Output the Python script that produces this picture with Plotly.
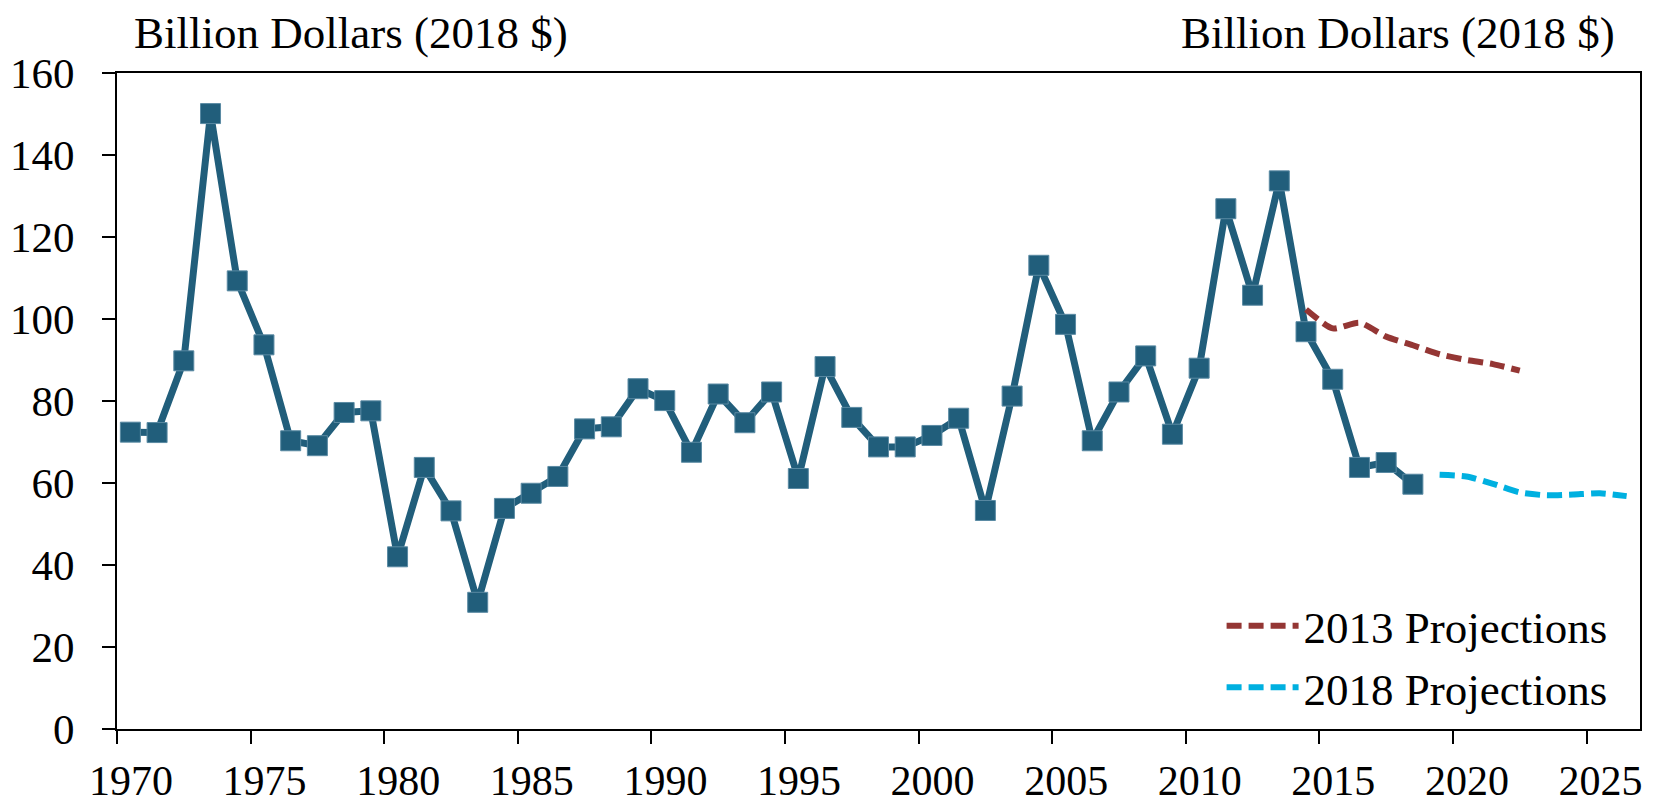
"""Billion dollars (2018 $) history with 2013 and 2018 projections."""
import plotly.graph_objects as go

# actual values, plotted at mid-year
years = [y + 0.5 for y in range(1970, 2019)]
actual = [72.4, 72.3, 89.8, 150.1, 109.3, 93.7, 70.3, 69.1, 77.2, 77.6,
          42.0, 63.8, 53.2, 30.9, 53.8, 57.5, 61.6, 73.2, 73.7, 83.0,
          80.1, 67.5, 81.7, 74.7, 82.2, 61.1, 88.4, 76.0, 68.8, 68.8,
          71.6, 75.8, 53.3, 81.2, 113.1, 98.7, 70.3, 82.2, 91.0, 71.9,
          88.0, 126.9, 105.8, 133.7, 96.9, 85.3, 63.8, 65.0, 59.7]

proj13_years = [y + 0.5 for y in range(2014, 2023)]
proj13 = [102.3, 97.7, 99.1, 95.7, 93.6, 91.4, 90.0, 89.0, 87.4]

proj18_years = [y + 0.5 for y in range(2019, 2027)]
proj18 = [62.0, 61.6, 59.8, 57.7, 57.0, 57.2, 57.5, 56.8]

x_ticks = list(range(1970, 2030, 5))
y_ticks = list(range(0, 180, 20))

BLUE = "#215E7B"
RED = "#943634"
CYAN = "#00B0E0"
FONT = "Liberation Serif"

fig = go.Figure()
fig.add_trace(go.Scatter(
    x=years, y=actual, mode="lines+markers", showlegend=False,
    line=dict(color=BLUE, width=7),
    marker=dict(symbol="square", size=20, color=BLUE,
                line=dict(color="#5a8aa3", width=1)),
))
fig.add_trace(go.Scatter(
    x=proj13_years, y=proj13, mode="lines", name="2013 Projections",
    line=dict(color=RED, width=6, dash="15px,7px", shape="spline", smoothing=0.6),
))
fig.add_trace(go.Scatter(
    x=proj18_years, y=proj18, mode="lines", name="2018 Projections",
    line=dict(color=CYAN, width=6, dash="15px,7px", shape="spline", smoothing=0.6),
))

axis_common = dict(
    showgrid=False, zeroline=False, showline=True, linecolor="black", linewidth=2,
    mirror=True, ticks="outside", ticklen=13, tickwidth=2, tickcolor="black",
    automargin=False,
)
fig.update_xaxes(range=[1970, 2027], tickvals=x_ticks, ticklabelshift=14,
                 ticklabelstandoff=1, tickfont=dict(family=FONT, size=42, color="black"),
                 **axis_common)
fig.update_yaxes(range=[0, 160], tickvals=y_ticks, ticklabelstandoff=19,
                 tickfont=dict(family=FONT, size=43, color="black"), **axis_common)

title_font = dict(family=FONT, size=45, color="black")
fig.update_layout(
    width=1657, height=804,
    margin=dict(l=117, r=17, t=73, b=75, autoexpand=False),
    plot_bgcolor="white", paper_bgcolor="white",
    font=dict(family=FONT, color="black"),
    legend=dict(x=0.982, y=0.009, xanchor="right", yanchor="bottom",
                font=dict(family=FONT, size=45, color="black"),
                bgcolor="rgba(0,0,0,0)", itemwidth=72, tracegroupgap=0),
    annotations=[
        dict(text="Billion Dollars (2018 $)", x=0.01, y=1.0, xref="paper", yref="paper",
             xanchor="left", yanchor="bottom", yshift=13, showarrow=False, font=title_font),
        dict(text="Billion Dollars (2018 $)", x=0.985, y=1.0, xref="paper", yref="paper",
             xanchor="right", yanchor="bottom", yshift=13, showarrow=False, font=title_font),
    ],
)

# drop the default 8px page margin so the figure fills the window
fig.write_html("out.html", config={"displayModeBar": False},
               post_script="document.body.style.margin = '0px';")
